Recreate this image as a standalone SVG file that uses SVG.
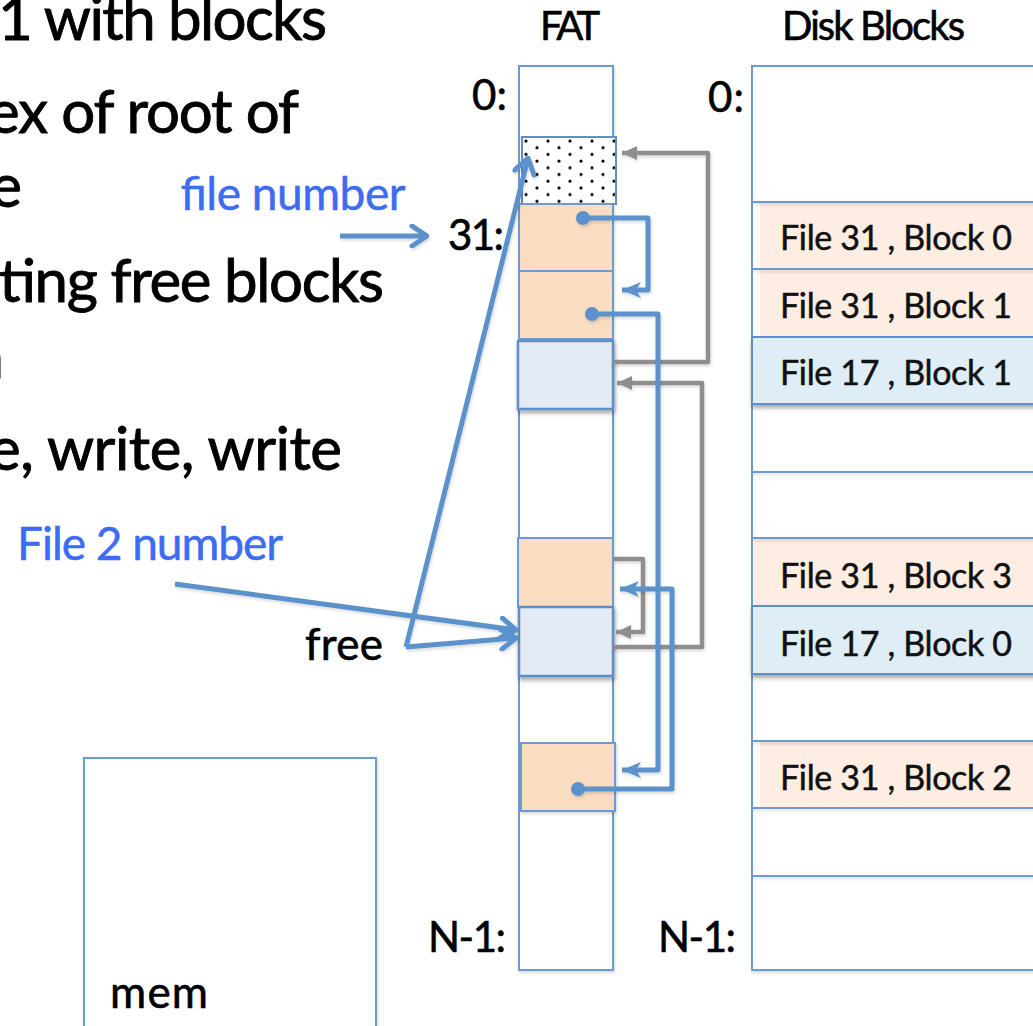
<svg xmlns="http://www.w3.org/2000/svg" width="1033" height="1026" viewBox="0 0 1033 1026">
  <style>
    .txt { font-family: "Lato", "Liberation Sans", sans-serif; fill: #000; stroke: #000; stroke-width: 0.6; }
    .big { font-size: 60px; stroke-width: 0.9; }
    .lbl { font-size: 42px; }
    .blue-txt { font-family: "Lato", "Liberation Sans", sans-serif; fill: #3d6cf2; stroke: #3d6cf2; stroke-width: 0.5; font-size: 46px; }
    .cellLbl { font-family: "Lato", "Liberation Sans", sans-serif; font-size: 34px; fill: #111; stroke: #111; stroke-width: 0.5; }
    .box { fill: #fff; stroke: #6a9bd1; stroke-width: 2; }
    .orange { fill: #fadcc1; stroke: #6a9bd1; stroke-width: 2; }
    .lblue { fill: #e3eaf4; stroke: #5e8fc8; stroke-width: 2.5; }
    .dorange { fill: #fdede2; }
    .dblue { fill: #dfedf6; }
    .rowline { stroke: #6a9bd1; stroke-width: 2; }
    .bl { fill: none; stroke: #5b92cb; stroke-width: 5; stroke-linejoin: round; }
    .gr { fill: none; stroke: #8e8e8e; stroke-width: 4.5; stroke-linejoin: round; }
    .dot { fill: #5b92cb; }
  </style>
  <defs>
    <filter id="shadow" x="-20%" y="-20%" width="140%" height="150%">
      <feDropShadow dx="1" dy="3" stdDeviation="2" flood-color="#000" flood-opacity="0.35"/>
    </filter>
    <filter id="soft" x="-20%" y="-20%" width="140%" height="150%">
      <feDropShadow dx="1" dy="2" stdDeviation="1.5" flood-color="#000" flood-opacity="0.15"/>
    </filter>
    <pattern id="dots" patternUnits="userSpaceOnUse" x="522" y="137" width="22" height="13.4">
      <rect width="22" height="13.4" fill="#fff"/>
      <circle cx="4" cy="4" r="1.5" fill="#000"/>
      <circle cx="15" cy="10.7" r="1.5" fill="#000"/>
    </pattern>
    <marker id="openBlue" markerUnits="userSpaceOnUse" viewBox="0 0 20 24" refX="18" refY="12" markerWidth="20" markerHeight="24" orient="auto">
      <path d="M3,2 L18,12 L3,22" fill="none" stroke="#5b92cb" stroke-width="5" stroke-linecap="round" stroke-linejoin="round"/>
    </marker>
    <marker id="stealthBlue" markerUnits="userSpaceOnUse" viewBox="0 0 20 18" refX="19" refY="9" markerWidth="20" markerHeight="18" orient="auto">
      <path d="M0,1 L19,9 L0,17 L5,9 Z" fill="#5b92cb"/>
    </marker>
    <marker id="triGray" markerUnits="userSpaceOnUse" viewBox="0 0 16 16" refX="15" refY="8" markerWidth="16" markerHeight="16" orient="auto">
      <path d="M0,1 L15,8 L0,15 Z" fill="#8e8e8e"/>
    </marker>
  </defs>

  <!-- bullet text running in from the left edge -->
  <g id="bullets">
    <text class="txt big" x="327" y="40" text-anchor="end" textLength="329" lengthAdjust="spacing">1 with blocks</text>
    <text class="txt big" x="299" y="133" text-anchor="end" textLength="311" lengthAdjust="spacing">ex of root of</text>
    <text class="txt big" x="22" y="207" text-anchor="end">e</text>
    <text class="txt big" x="384" y="302" text-anchor="end" textLength="385" lengthAdjust="spacing">ting free blocks</text>
    <text class="txt big" x="4" y="378" text-anchor="end">n</text>
    <text class="txt big" x="342" y="470" text-anchor="end" textLength="353" lengthAdjust="spacing">e, write, write</text>
  </g>

  <!-- column headings -->
  <g id="headings">
    <text class="txt" font-size="40" x="540" y="40" textLength="60" lengthAdjust="spacing">FAT</text>
    <text class="txt" font-size="40" x="782" y="40" textLength="183" lengthAdjust="spacing">Disk Blocks</text>
  </g>

  <!-- index labels -->
  <g id="index-labels">
    <text class="txt lbl" x="472" y="110" textLength="35" lengthAdjust="spacing">0:</text>
    <text class="txt lbl" x="708" y="112" textLength="36" lengthAdjust="spacing">0:</text>
    <text class="txt lbl" x="448" y="250" textLength="56" lengthAdjust="spacing">31:</text>
    <text class="txt lbl" x="428" y="952" textLength="78" lengthAdjust="spacing">N-1:</text>
    <text class="txt lbl" x="658" y="952" textLength="78" lengthAdjust="spacing">N-1:</text>
    <text class="txt" font-size="44" x="305" y="660" textLength="78" lengthAdjust="spacing">free</text>
    <text class="blue-txt" x="180" y="210" textLength="225" lengthAdjust="spacing">file number</text>
    <text class="blue-txt" x="17" y="560" textLength="266" lengthAdjust="spacing">File 2 number</text>
  </g>

  <!-- memory box -->
  <g id="mem">
    <rect class="box" x="84" y="758" width="292" height="300" filter="url(#soft)"/>
    <text class="txt" font-size="44" x="110" y="1008" textLength="98" lengthAdjust="spacing">mem</text>
  </g>

  <!-- file allocation table -->
  <g id="fat">
    <rect class="box" x="519" y="66" width="94" height="904" filter="url(#soft)"/>
    <rect x="522" y="137" width="94" height="67" fill="url(#dots)" stroke="#5e8fc8" stroke-width="2"/>
    <rect class="orange" x="519" y="204" width="94" height="67"/>
    <rect class="orange" x="519" y="271" width="94" height="68"/>
    <rect class="lblue" x="518" y="341" width="95" height="68" filter="url(#shadow)"/>
    <rect class="orange" x="518" y="538" width="95" height="69"/>
    <rect class="lblue" x="519" y="607" width="94" height="69" filter="url(#shadow)"/>
    <rect class="orange" x="521" y="743" width="94" height="68" filter="url(#soft)"/>
  </g>

  <!-- disk blocks -->
  <g id="disk">
    <rect class="box" x="752" y="66" width="300" height="904" filter="url(#soft)"/>
    <rect class="dorange" x="760" y="203" width="290" height="65"/>
    <rect class="dorange" x="760" y="270" width="290" height="66"/>
    <rect class="dblue" x="752" y="337" width="300" height="67" stroke="#5e8fc8" stroke-width="2" filter="url(#shadow)"/>
    <rect class="dorange" x="754" y="539" width="296" height="66"/>
    <rect class="dblue" x="752" y="606" width="300" height="68" stroke="#5e8fc8" stroke-width="2" filter="url(#shadow)"/>
    <rect class="dorange" x="760" y="742" width="290" height="65"/>
    <g class="rowline" filter="url(#soft)">
      <line x1="752" y1="202" x2="1040" y2="202"/>
      <line x1="752" y1="269" x2="1040" y2="269"/>
      <line x1="752" y1="472" x2="1040" y2="472"/>
      <line x1="752" y1="538" x2="1040" y2="538"/>
      <line x1="752" y1="741" x2="1040" y2="741"/>
      <line x1="752" y1="808" x2="1040" y2="808"/>
      <line x1="752" y1="876" x2="1040" y2="876"/>
    </g>
    <text class="cellLbl" x="780" y="250" textLength="232" lengthAdjust="spacing">File 31 , Block 0</text>
    <text class="cellLbl" x="780" y="318" textLength="232" lengthAdjust="spacing">File 31 , Block 1</text>
    <text class="cellLbl" x="780" y="385" textLength="232" lengthAdjust="spacing">File 17 , Block 1</text>
    <text class="cellLbl" x="780" y="588" textLength="232" lengthAdjust="spacing">File 31 , Block 3</text>
    <text class="cellLbl" x="780" y="656" textLength="232" lengthAdjust="spacing">File 17 , Block 0</text>
    <text class="cellLbl" x="780" y="790" textLength="232" lengthAdjust="spacing">File 31 , Block 2</text>
  </g>

  <!-- connectors -->
  <g id="connectors">
    <g filter="url(#soft)">
      <path class="gr" d="M613,362 H708 V153 H622" marker-end="url(#triGray)"/>
      <path class="gr" d="M613,647 H702 V383 H617" marker-end="url(#triGray)"/>
      <path class="gr" d="M613,559 H643 V632 H616" marker-end="url(#triGray)"/>
    </g>
    <g filter="url(#soft)">
      <path class="bl" d="M340,236 H427" marker-end="url(#openBlue)"/>
      <path class="bl" d="M406,647 L528,158" marker-end="url(#openBlue)"/>
      <path class="bl" d="M175,584 L516,630" marker-end="url(#openBlue)"/>
      <path class="bl" d="M406,647 L516,638" marker-end="url(#openBlue)"/>
      <path class="bl" d="M583,218 H648 V290 H622" marker-end="url(#stealthBlue)"/>
      <path class="bl" d="M592,314 H658 V770 H622" marker-end="url(#stealthBlue)"/>
      <path class="bl" d="M578,789 H672 V589 H620" marker-end="url(#stealthBlue)"/>
      <circle class="dot" cx="583" cy="218" r="7"/>
      <circle class="dot" cx="592" cy="314" r="7"/>
      <circle class="dot" cx="578" cy="789" r="7"/>
    </g>
  </g>
</svg>
